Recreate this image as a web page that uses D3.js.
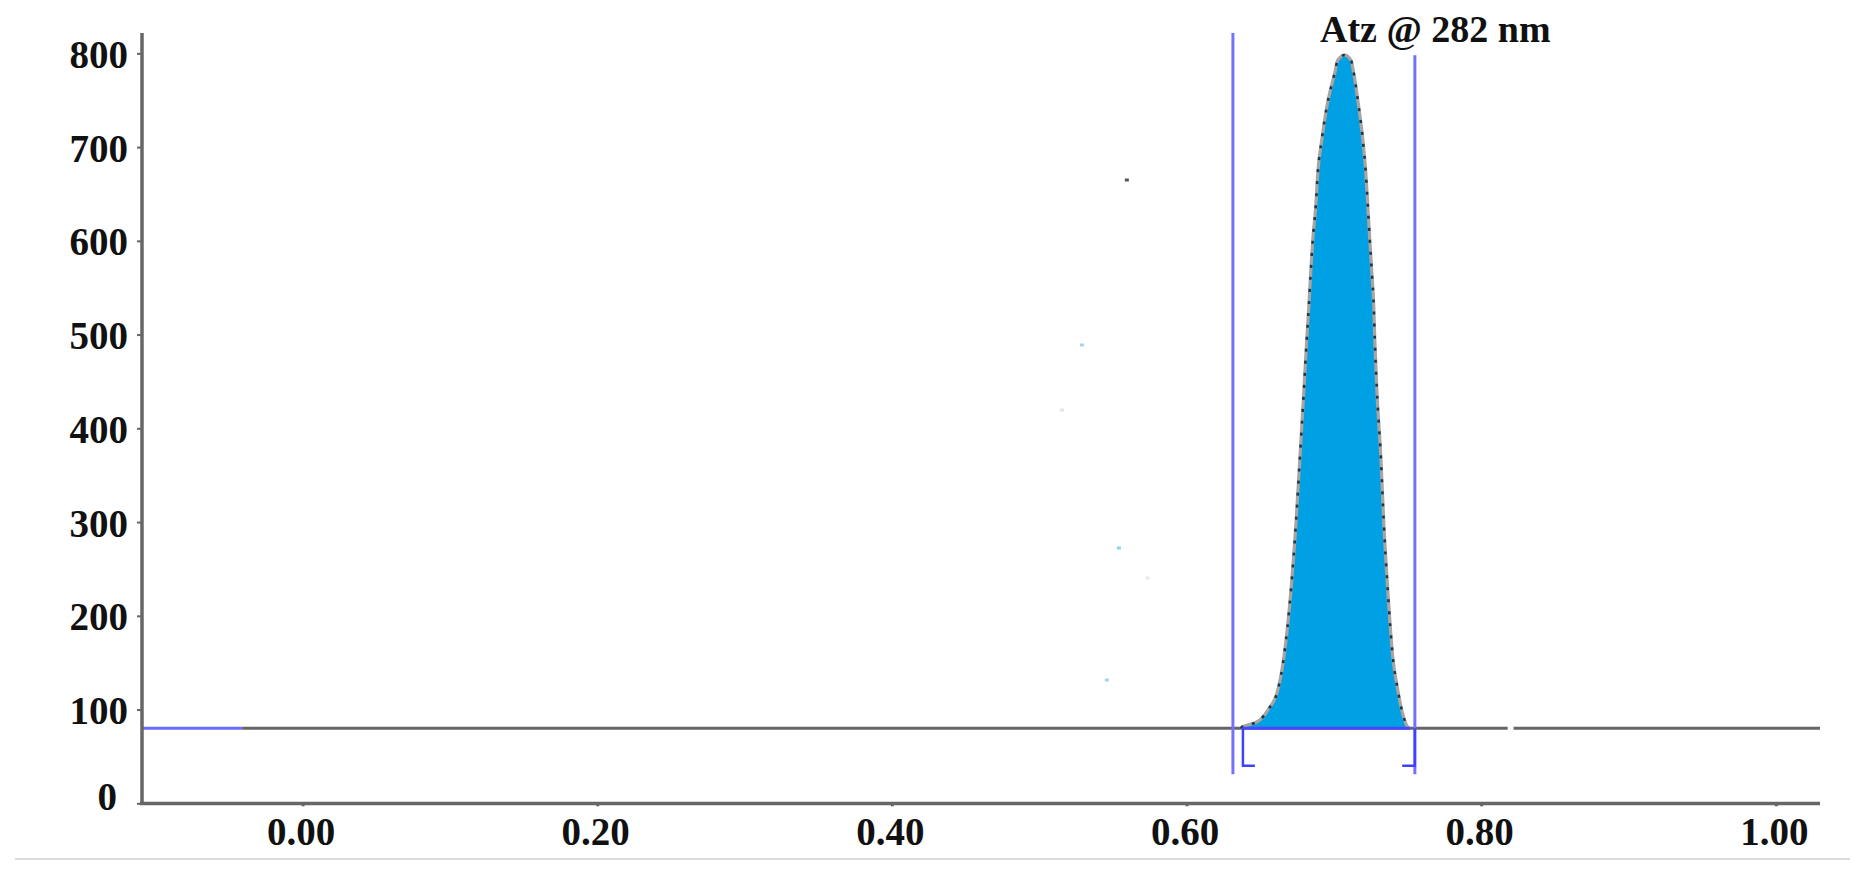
<!DOCTYPE html>
<html>
<head>
<meta charset="utf-8">
<script src="https://cdn.jsdelivr.net/npm/d3@7"></script>
<style>
  html, body { margin: 0; padding: 0; background: #fff; }
  svg { display: block; }
  text { font-family: "Liberation Serif", "Times New Roman", serif; font-weight: bold; fill: #111; }
</style>
</head>
<body>
<svg id="chart" width="1866" height="875"></svg>
<script>
// ---- data ----
const xTicks = [0.00, 0.20, 0.40, 0.60, 0.80, 1.00];
const xTickLabels = ["0.00", "0.20", "0.40", "0.60", "0.80", "1.00"];
const yTicks = [0, 100, 200, 300, 400, 500, 600, 700, 800];
const yTickLabels = ["0", "100", "200", "300", "400", "500", "600", "700", "800"];

const xDomain = [-0.109, 1.03];
const yDomain = [0, 821.7];

const baselineLevel = 80;
const traceStart = -0.109;
const traceBlueEnd = -0.041;
const traceEnd = 1.03;
const traceGap = [0.818, 0.822];

const peakLabel = "Atz @ 282 nm";
const peakStart = 0.638;
const peakEnd = 0.7516;
const peakTimes = [0.637, 0.6376, 0.6416, 0.6498, 0.6552, 0.6620, 0.6661, 0.6709, 0.6743, 0.6770, 0.6797,
  0.6816, 0.6830, 0.6843, 0.6857, 0.6877, 0.6891, 0.6918, 0.6952, 0.7006, 0.7027, 0.7074,
  0.7116, 0.7135, 0.7169, 0.7197, 0.7217, 0.7231, 0.7244, 0.7258, 0.7271, 0.7278, 0.7292,
  0.7319, 0.7339, 0.7366, 0.7400, 0.7434, 0.7461, 0.7502, 0.7516];
const peakValues = [80, 81.4, 83.5, 88.9, 99.5, 120.9, 156.1, 227.5, 299, 369.4, 440.9,
  494.2, 529.4, 565.7, 600.9, 636.1, 672.3, 707.5, 742.7, 779, 792.9, 798.2,
  792.9, 779, 742.7, 707.5, 672.3, 636.1, 600.9, 565.7, 529.4, 494.2, 440.9,
  369.4, 299, 227.5, 156.1, 120.9, 99.5, 81.4, 80];

const windowLines = [0.6315, 0.755];
const windowTops = [821.7, 798];
const windowBottom = 31;
const bracketLow = 40;
const bracketLeft = [0.6383, 0.6464];
const bracketRight = [0.755, 0.7464];

const noiseTimes = [0.5595, 0.5290, 0.5154, 0.5541, 0.5736, 0.5459];
const noiseValues = [664.9, 488.9, 419.5, 272.3, 240.3, 131.5];
const noiseColors = ["#555", "#9fd4f5", "#e4e4e4", "#8fd0f5", "#e8e8e8", "#9fd4f5"];

// ---- layout ----
const svg = d3.select("#chart");
const x = d3.scaleLinear().domain(xDomain).range([142, 1820]);
const y = d3.scaleLinear().domain(yDomain).range([803.3, 33]);
const axisColor = "#666";

// separator line below chart
svg.append("line").attr("x1", 15).attr("x2", 1850).attr("y1", 859).attr("y2", 859)
  .attr("stroke", "#cfcfcf").attr("stroke-width", 1.5);

// noise specks
svg.append("g").selectAll("rect").data(noiseTimes).join("rect")
  .attr("x", (d) => x(d) - 2).attr("y", (d, i) => y(noiseValues[i]) - 1.5)
  .attr("width", 4).attr("height", 3).attr("fill", (d, i) => noiseColors[i]);

// baseline trace (gray) with gap
const lineGen = d3.line().x(d => x(d[0])).y(d => y(d[1]));
svg.append("path").attr("d", lineGen([[traceBlueEnd, baselineLevel], [traceGap[0], baselineLevel]]))
  .attr("stroke", axisColor).attr("stroke-width", 3).attr("fill", "none");
svg.append("path").attr("d", lineGen([[traceGap[1], baselineLevel], [traceEnd, baselineLevel]]))
  .attr("stroke", axisColor).attr("stroke-width", 3).attr("fill", "none");
svg.append("path").attr("d", lineGen([[traceStart, baselineLevel], [traceBlueEnd, baselineLevel]]))
  .attr("stroke", "#6b6bff").attr("stroke-width", 3).attr("fill", "none");

// peak
const peak = peakTimes.map((t, i) => ({ t, v: peakValues[i] }));
const area = d3.area().x(d => x(d.t)).y0(y(baselineLevel)).y1(d => y(d.v)).curve(d3.curveMonotoneX);
svg.append("path").attr("d", area(peak)).attr("fill", "#00a0e4");
const outline = d3.line().x(d => x(d.t)).y(d => y(d.v)).curve(d3.curveMonotoneX);
svg.append("path").attr("d", outline(peak)).attr("fill", "none")
  .attr("stroke", "#aaa4a0").attr("stroke-width", 3.2);
svg.append("path").attr("d", outline(peak)).attr("fill", "none")
  .attr("stroke", "#17384f").attr("stroke-width", 2.6).attr("stroke-dasharray", "3,9");

// peak baseline (blue)
svg.append("path").attr("d", lineGen([[peakStart, baselineLevel], [peakEnd, baselineLevel]]))
  .attr("stroke", "#4848ff").attr("stroke-width", 3).attr("fill", "none");

// integration window lines
svg.append("g").selectAll("line").data(windowLines).join("line")
  .attr("x1", d => x(d)).attr("x2", d => x(d))
  .attr("y1", (d, i) => y(windowTops[i])).attr("y2", y(windowBottom))
  .attr("stroke", "#7272ff").attr("stroke-width", 3);

// brackets
[bracketLeft, bracketRight].forEach(b => {
  svg.append("path")
    .attr("d", lineGen([[b[0], baselineLevel], [b[0], bracketLow], [b[1], bracketLow]]))
    .attr("fill", "none").attr("stroke", "#4040ff").attr("stroke-width", 2.5);
});

// axes
const yAxis = d3.axisLeft(y).tickValues(yTicks).tickSize(5).tickFormat((d, i) => yTickLabels[i]);
const gy = svg.append("g").attr("transform", "translate(142,0)").call(yAxis);
gy.select(".domain").remove();
gy.selectAll(".tick line").attr("stroke", axisColor).attr("stroke-width", 2);
gy.selectAll(".tick text").attr("font-size", 39).attr("x", -14).attr("dy", "0.36em")
  .attr("fill", "#111")
  .attr("font-family", '"Liberation Serif", "Times New Roman", serif')
  .attr("font-weight", "bold");
gy.selectAll(".tick").filter(d => d === 0).select("text").attr("x", -25).attr("dy", "0.16em");

const xAxis = d3.axisBottom(x).tickValues(xTicks).tickSize(3).tickFormat((d, i) => xTickLabels[i]);
const gx = svg.append("g").attr("transform", "translate(0,803.3)").call(xAxis);
gx.select(".domain").remove();
gx.selectAll(".tick line").attr("stroke", axisColor).attr("stroke-width", 3);
gx.selectAll(".tick text").attr("font-size", 39).attr("y", 0).attr("dy", "1.08em").attr("dx", -2)
  .attr("fill", "#111")
  .attr("font-family", '"Liberation Serif", "Times New Roman", serif')
  .attr("font-weight", "bold");

// axis lines
svg.append("line").attr("x1", 142).attr("x2", 142).attr("y1", y(yDomain[1])).attr("y2", 805)
  .attr("stroke", axisColor).attr("stroke-width", 3.5);
svg.append("line").attr("x1", 140).attr("x2", x(xDomain[1])).attr("y1", 803.5).attr("y2", 803.5)
  .attr("stroke", axisColor).attr("stroke-width", 3.5);

// peak label
svg.append("text").attr("x", 1320).attr("y", 42).attr("font-size", 38).text(peakLabel);
</script>
</body>
</html>
